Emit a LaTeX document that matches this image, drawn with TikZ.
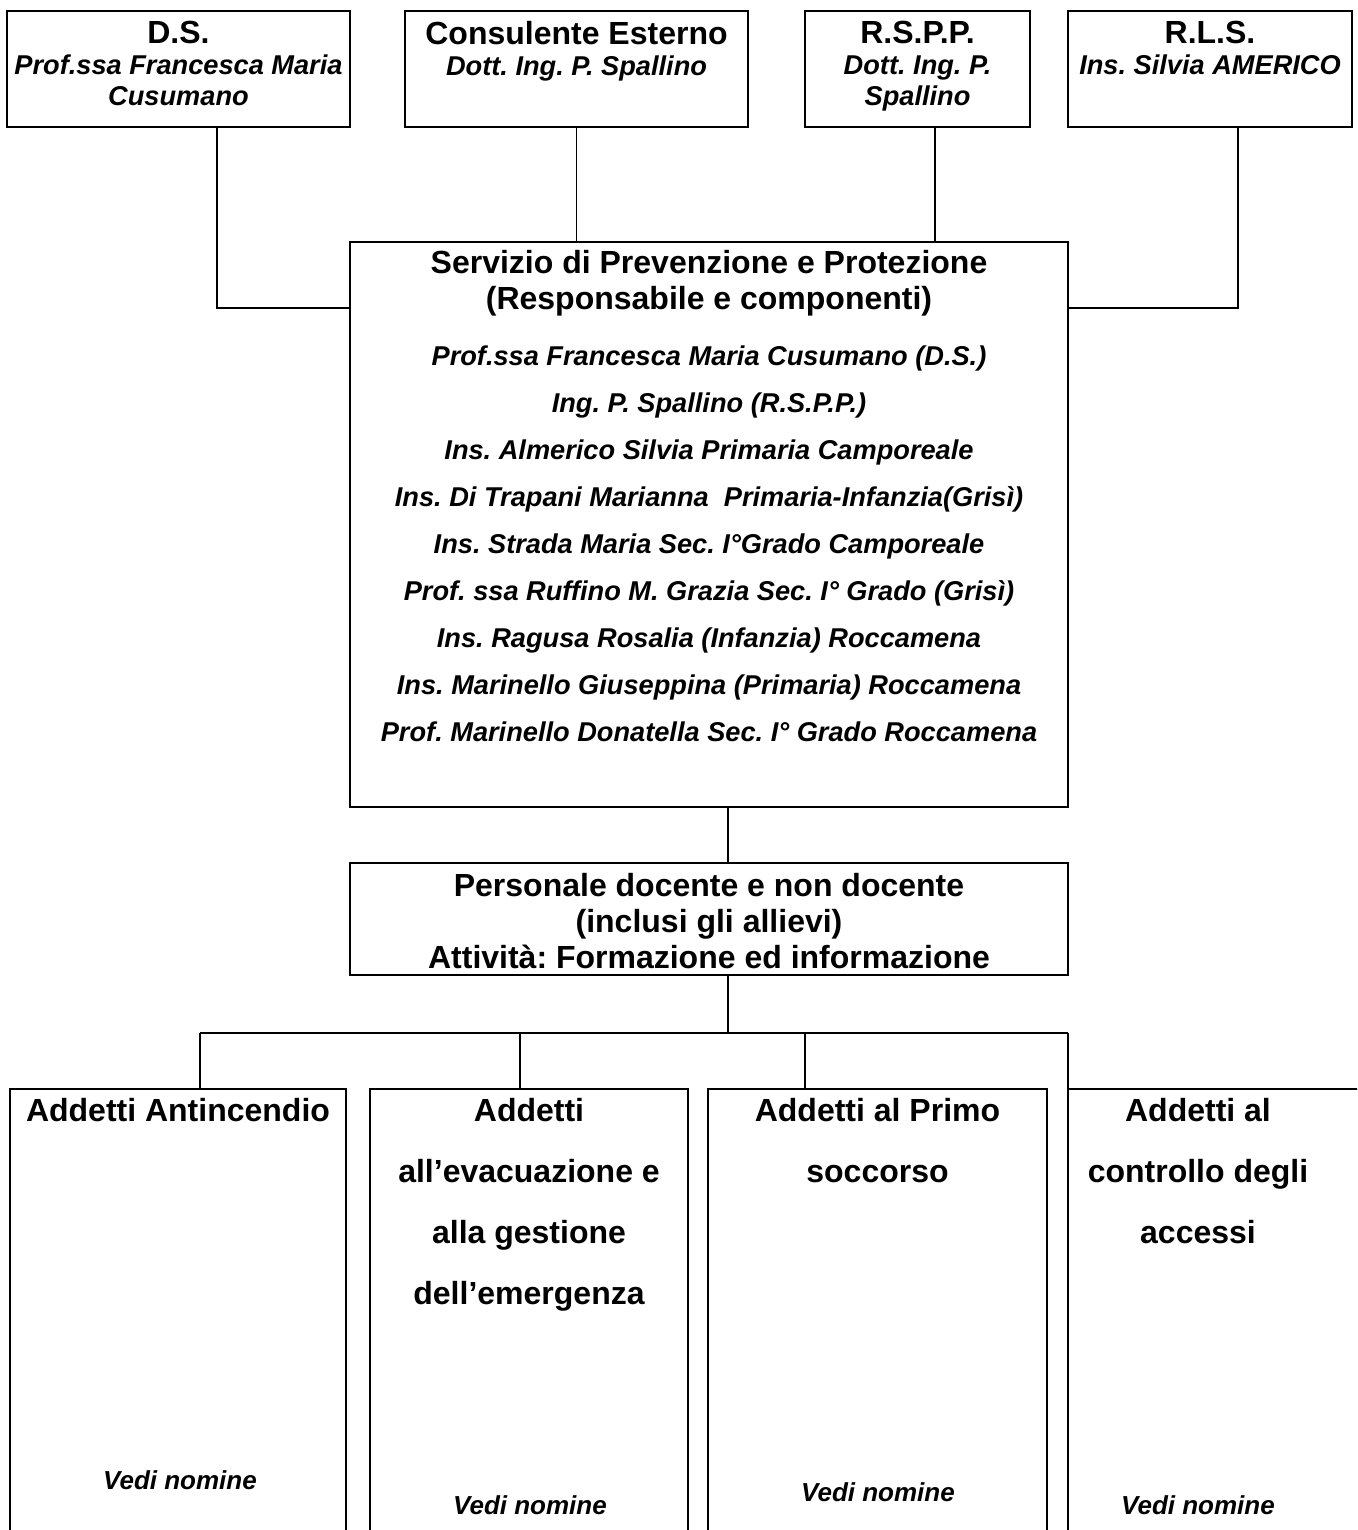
\documentclass[tikz,border=0pt]{standalone}
\usepackage{fontspec}
\setmainfont{Liberation Sans}
\frenchspacing
\newcommand\headfont{\fontsize{16}{18}\selectfont\bfseries\upshape}
\newcommand\namefont{\fontsize{13.6}{15.5}\selectfont\bfseries\itshape}

\begin{document}
\begin{tikzpicture}[x=0.5pt,y=-0.5pt]
\tikzset{
  box/.style={draw=black, line width=0.9pt, inner sep=0pt, outer sep=0pt},
  link/.style={draw=black, line width=0.8pt},
  toplbl/.style={anchor=north, inner sep=0pt, align=center, font=\namefont},
  headlbl/.style={anchor=north, inner sep=0pt, align=center, font=\headfont},
  listlbl/.style={anchor=north, inner sep=0pt, align=center, font=\fontsize{13.6}{23.5}\selectfont\bfseries\itshape},
  teamlbl/.style={anchor=north, inner sep=0pt, align=center, font=\fontsize{16}{30.5}\selectfont\bfseries},
  seelbl/.style={inner sep=0pt, font=\fontsize{13}{15}\selectfont\bfseries\itshape}
}
\useasboundingbox (0,0) rectangle (1357,1530);
\clip (0,0) rectangle (1357,1530);
\node [box, minimum width=171.5pt, minimum height=58pt] (ds) at (178.5,69) {};
\node [box, minimum width=171.5pt, minimum height=58pt] (ce) at (576.5,69) {};
\node [box, minimum width=112.5pt, minimum height=58pt] (rspp) at (917.5,69) {};
\node [box, minimum width=142pt, minimum height=58pt] (rls) at (1210,69) {};
\node [box, minimum width=359pt, minimum height=282.5pt] (spp) at (709,524.5) {};
\node [box, minimum width=359pt, minimum height=56pt] (pers) at (709,919) {};
\node [box, minimum width=168pt, minimum height=235.5pt] (b1) at (178,1324.5) {};
\node [box, minimum width=159pt, minimum height=235.5pt] (b2) at (529,1324.5) {};
\node [box, minimum width=169.5pt, minimum height=235.5pt] (b3) at (877.5,1324.5) {};
\node [box, minimum width=176pt, minimum height=235.5pt] (b4) at (1244,1324.5) {};
\node [toplbl] (ds-t) at (178.5,21) {{\headfont D.S.}\\Prof.ssa Francesca Maria\\Cusumano};
\node [toplbl] (ce-t) at (576.5,21) {{\headfont Consulente Esterno}\\Dott. Ing. P. Spallino};
\node [toplbl] (rspp-t) at (917.5,21) {{\headfont R.S.P.P.}\\Dott. Ing. P.\\Spallino};
\node [toplbl] (rls-t) at (1210,21) {{\headfont R.L.S.}\\Ins. Silvia AMERICO};
\node [headlbl] (spp-t) at (709,250) {Servizio di Prevenzione e Protezione\\(Responsabile e componenti)};
\node [listlbl] (spp-l) at (709,345) {Prof.ssa Francesca Maria Cusumano (D.S.)\\
  Ing. P. Spallino (R.S.P.P.)\\
  Ins. Almerico Silvia Primaria Camporeale\\
  Ins. Di Trapani Marianna~ Primaria-Infanzia(Grisì)\\
  Ins. Strada Maria Sec. I°Grado Camporeale\\
  Prof. ssa Ruffino M. Grazia Sec. I° Grado (Grisì)\\
  Ins. Ragusa Rosalia (Infanzia) Roccamena\\
  Ins. Marinello Giuseppina (Primaria) Roccamena\\
  Prof. Marinello Donatella Sec. I° Grado Roccamena};
\node [headlbl] (pers-t) at (709,873) {Personale docente e non docente\\(inclusi gli allievi)\\Attività: Formazione ed informazione};
\node [teamlbl] (b1-t) at (178,1098) {Addetti Antincendio};
\node [teamlbl] (b2-t) at (529,1098) {Addetti\\all’evacuazione e\\alla gestione\\dell’emergenza};
\node [teamlbl] (b3-t) at (877.5,1098) {Addetti al Primo\\soccorso};
\node [teamlbl] (b4-t) at (1198,1098) {Addetti al\\controllo degli\\accessi};
\node [seelbl] (v1) at (180,1480) {Vedi nomine};
\node [seelbl] (v2) at (530,1505) {Vedi nomine};
\node [seelbl] (v3) at (878,1492) {Vedi nomine};
\node [seelbl] (v4) at (1198,1505) {Vedi nomine};
\coordinate (j1) at (217,308);
\coordinate (j3) at (935,242);
\coordinate (j4) at (1238,308);
\coordinate (j5) at (728,835);
\coordinate (bus) at (728,1033);
\coordinate (d1) at (200,1033);
\coordinate (d2) at (520,1033);
\coordinate (d3) at (805,1033);
\coordinate (d4) at (b4.north west |- bus);
\draw [link] (j1 |- ds.south) -- (j1) -- (j1 -| spp.west);
\draw [link] (ce.south) -- (ce.south |- spp.north);
\draw [link] (j3 |- rspp.south) -- (j3);
\draw [link] (j4 |- rls.south) -- (j4) -- (j4 -| spp.east);
\draw [link] (j5 |- spp.south) -- (j5 |- pers.north);
\draw [link] (bus |- pers.south) -- (bus);
\draw [link] (d1) -- (d4);
\draw [link] (d1) -- (d1 |- b1.north);
\draw [link] (d2) -- (d2 |- b2.north);
\draw [link] (d3) -- (d3 |- b3.north);
\draw [link] (d4) -- (b4.north west);
\end{tikzpicture}
\end{document}
